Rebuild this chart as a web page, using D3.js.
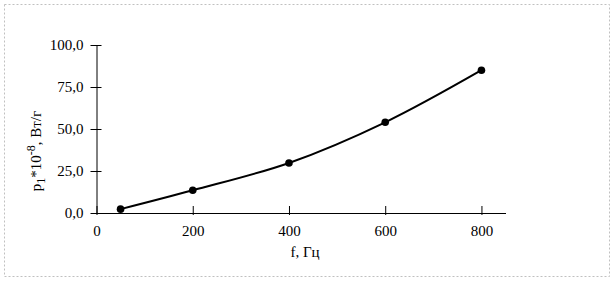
<!DOCTYPE html>
<html>
<head>
<meta charset="utf-8">
<script src="https://cdn.jsdelivr.net/npm/d3@7"></script>
<style>
  body { margin: 0; background: #fff; }
  svg { display: block; }
  text { font-family: "Liberation Serif", "Times New Roman", serif; fill: #000; }
</style>
</head>
<body>
<div id="graph"></div>
<script>
// data
var freqs = [50, 200, 400, 600, 800]
var power = [2.3, 13.5, 29.8, 54.0, 85.0]
var xTicks = [0, 200, 400, 600, 800]
var yTicks = [0, 25, 50, 75, 100]

var width = 616
var height = 283

var svg = d3
  .select('#graph')
  .append('svg')
  .attr('width', width)
  .attr('height', height)

// dotted frame round the chart
svg
  .append('rect')
  .attr('x', 4.5)
  .attr('y', 4.5)
  .attr('width', 605)
  .attr('height', 272)
  .style('fill', 'none')
  .style('stroke', '#c0c0c0')
  .style('stroke-dasharray', '2,2')

var x = d3.scaleLinear().domain([0, 850]).range([96.5, 505.5])
var y = d3.scaleLinear().domain([0, 100]).range([213, 45])

var fmt = function(d) {
  return d.toFixed(1).replace('.', ',')
}

// y axis
var yAxis = svg
  .append('g')
  .attr('transform', 'translate(' + x(0) + ',0)')
  .call(d3.axisLeft(y).tickValues(yTicks).tickFormat(fmt).tickSize(0).tickPadding(13))
yAxis.select('.domain').style('stroke', '#000')
yAxis.selectAll('.tick text').style('font-size', '15px')
yAxis
  .selectAll('.tick')
  .append('line')
  .attr('x1', -6)
  .attr('x2', 5)
  .style('stroke', '#000')

// x axis
var xAxis = svg
  .append('g')
  .attr('transform', 'translate(0,' + y(0) + ')')
  .call(d3.axisBottom(x).tickValues(xTicks).tickFormat(d3.format('d')).tickSize(0).tickPadding(12))
xAxis.select('.domain').style('stroke', '#000')
xAxis.selectAll('.tick text').style('font-size', '15px')
xAxis
  .selectAll('.tick')
  .append('line')
  .attr('y1', -7)
  .attr('y2', 2)
  .style('stroke', '#000')

// axis titles
svg
  .append('text')
  .attr('x', 305)
  .attr('y', 257)
  .attr('text-anchor', 'middle')
  .style('font-size', '15px')
  .text('f, Гц')

var yTitle = svg
  .append('text')
  .attr('transform', 'translate(41,151) rotate(-90)')
  .attr('text-anchor', 'middle')
  .style('font-size', '15px')
yTitle.append('tspan').text('p')
yTitle.append('tspan').attr('dy', 4).style('font-size', '12px').text('1')
yTitle.append('tspan').attr('dy', -4).text('*10')
yTitle.append('tspan').attr('dy', -6).style('font-size', '12px').text('-8')
yTitle.append('tspan').attr('dy', 6).text(', Вт/г')

// smoothed line and markers
var pts = freqs.map(function(f, i) {
  return { f: f, p: power[i] }
})

var line = d3
  .line()
  .x(function(d) { return x(d.f) })
  .y(function(d) { return y(d.p) })
  .curve(d3.curveCatmullRom.alpha(0.5))

svg
  .append('path')
  .datum(pts)
  .attr('d', line)
  .style('fill', 'none')
  .style('stroke', '#000')
  .style('stroke-width', 2)

svg
  .selectAll('.dot')
  .data(pts)
  .enter()
  .append('circle')
  .attr('cx', function(d) { return x(d.f) })
  .attr('cy', function(d) { return y(d.p) })
  .attr('r', 3.8)
  .style('fill', '#000')
</script>
</body>
</html>
